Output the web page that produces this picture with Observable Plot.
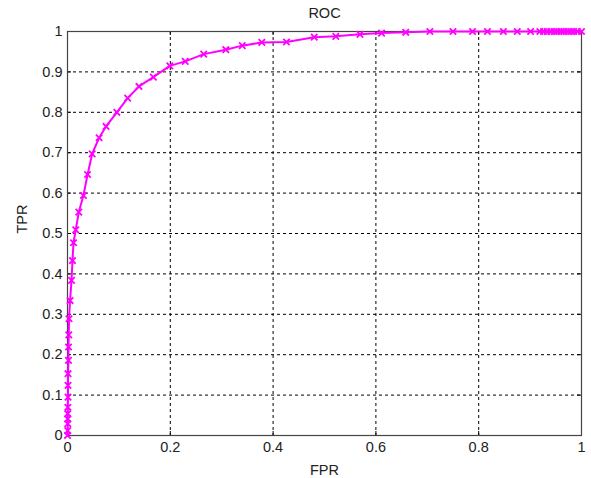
<!DOCTYPE html>
<html>
<head>
<meta charset="utf-8">
<script src="https://cdn.jsdelivr.net/npm/d3@7"></script>
<script src="https://cdn.jsdelivr.net/npm/@observablehq/plot@0.6"></script>
<style>
  html, body { margin: 0; padding: 0; background: #fff; }
  #chart svg { display: block; font-family: Arial, "Liberation Sans", sans-serif; }
</style>
</head>
<body>
<div id="chart"></div>
<script>
const title = "ROC";
const xLabel = "FPR";
const yLabel = "TPR";
const xTicks = [0, 0.2, 0.4, 0.6, 0.8, 1];
const yTicks = [0, 0.1, 0.2, 0.3, 0.4, 0.5, 0.6, 0.7, 0.8, 0.9, 1];
const fpr = [0, 0.0005, 0.0005, 0.0005, 0.0005, 0.0007, 0.001, 0.001, 0.001, 0.0019, 0.002, 0.0025, 0.003, 0.005, 0.0078, 0.0097, 0.0117, 0.016, 0.022, 0.031, 0.039, 0.048, 0.0615, 0.075, 0.096, 0.117, 0.139, 0.167, 0.199, 0.229, 0.265, 0.308, 0.340, 0.378, 0.426, 0.480, 0.522, 0.569, 0.611, 0.658, 0.705, 0.750, 0.788, 0.817, 0.848, 0.875, 0.901, 0.919, 0.926, 0.933, 0.940, 0.947, 0.953, 0.960, 0.966, 0.973, 0.979, 0.985, 0.992, 1];
const tpr = [0, 0.012, 0.029, 0.041, 0.054, 0.070, 0.095, 0.124, 0.153, 0.186, 0.219, 0.249, 0.289, 0.334, 0.384, 0.433, 0.477, 0.509, 0.553, 0.594, 0.646, 0.697, 0.737, 0.765, 0.800, 0.835, 0.864, 0.887, 0.915, 0.926, 0.944, 0.955, 0.965, 0.973, 0.974, 0.986, 0.988, 0.993, 0.996, 0.998, 1, 1, 1, 1, 1, 1, 1, 1, 1, 1, 1, 1, 1, 1, 1, 1, 1, 1, 1, 1];

const data = fpr.map((x, i) => ({x, y: tpr[i]}));
const W = 591, H = 478, mL = 67, mR = 10, mT = 31, mB = 43;
const pw = W - mL - mR, ph = H - mT - mB;
const magenta = "#ff00ff";
const ink = "#222";
const fs = 14.5;

const chart = Plot.plot({
  width: W, height: H,
  marginLeft: mL, marginRight: mR, marginTop: mT, marginBottom: mB,
  style: {fontSize: fs + "px", fontFamily: "Arial, 'Liberation Sans', sans-serif", color: ink, background: "#fff"},
  x: {domain: [0, 1]},
  y: {domain: [0, 1]},
  marks: [
    Plot.gridX(xTicks, {stroke: "#000", strokeOpacity: 1, strokeDasharray: "3,3", strokeWidth: 1}),
    Plot.gridY(yTicks, {stroke: "#000", strokeOpacity: 1, strokeDasharray: "3,3", strokeWidth: 1}),
    Plot.tickX(xTicks, {x: d => d, insetTop: ph - 4, stroke: "#000"}),
    Plot.tickX(xTicks, {x: d => d, insetBottom: ph - 4, stroke: "#000"}),
    Plot.tickY(yTicks, {y: d => d, insetRight: pw - 4, stroke: "#000"}),
    Plot.tickY(yTicks, {y: d => d, insetLeft: pw - 4, stroke: "#000"}),
    Plot.axisX(xTicks, {tickSize: 0, tickPadding: 6, tickFormat: d => String(d), label: null, fill: ink, fontSize: fs}),
    Plot.axisY(yTicks, {tickSize: 0, tickPadding: 5, tickFormat: d => String(d), label: null, fill: ink, fontSize: fs}),
    Plot.frame({stroke: "#444", strokeWidth: 1.2}),
    Plot.line(data, {x: "x", y: "y", stroke: magenta, strokeWidth: 2}),
    Plot.dot(data, {x: "x", y: "y", symbol: "times", r: 3, stroke: magenta, strokeWidth: 1.8}),
    Plot.text([title], {text: d => d, frameAnchor: "top", lineAnchor: "middle", dy: -18, fontSize: fs, fill: ink}),
    Plot.text([xLabel], {text: d => d, frameAnchor: "bottom", lineAnchor: "middle", dy: 34.5, fontSize: fs, fill: ink}),
    Plot.text([yLabel], {text: d => d, frameAnchor: "left", lineAnchor: "middle", dx: -45, rotate: -90, fontSize: fs, fill: ink})
  ]
});
document.getElementById("chart").appendChild(chart);
</script>
</body>
</html>
